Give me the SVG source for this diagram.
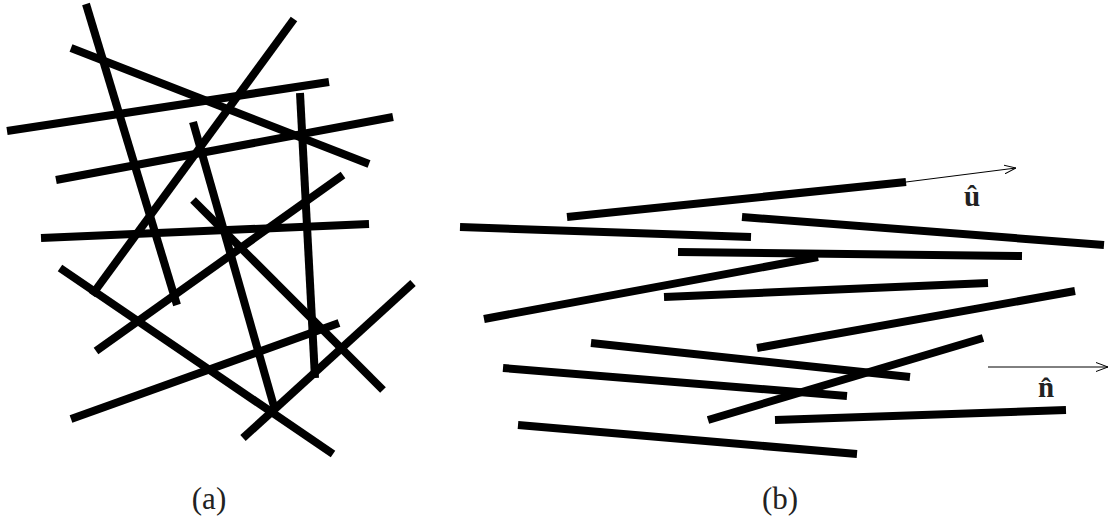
<svg xmlns="http://www.w3.org/2000/svg" width="1110" height="518" viewBox="0 0 1110 518">
<style>
.rod{stroke:#000;stroke-width:8;stroke-linecap:butt;fill:none}
.thin{stroke:#000;stroke-width:1;fill:none}
.lbl{font-family:"Liberation Serif","DejaVu Serif",serif;font-size:31px;fill:#222}
.vec{font-family:"Liberation Serif","DejaVu Serif",serif;font-size:29px;font-weight:bold;fill:#222}
</style>
<defs>
<marker id="open" viewBox="0 0 12 10" refX="12" refY="5" markerWidth="12" markerHeight="10" markerUnits="userSpaceOnUse" orient="auto">
<path d="M0,0.5 L12,5 L0,9.5" fill="none" stroke="#000" stroke-width="1"/>
</marker>
</defs>
<rect width="1110" height="518" fill="#fff"/>
<g id="panel-a">
<line class="rod" x1="86" y1="4" x2="177" y2="305"/>
<line class="rod" x1="71" y1="48" x2="369" y2="164"/>
<line class="rod" x1="294" y1="19" x2="92" y2="295"/>
<line class="rod" x1="7" y1="131" x2="329" y2="82"/>
<line class="rod" x1="300" y1="93" x2="315" y2="378"/>
<line class="rod" x1="56" y1="180" x2="393" y2="117"/>
<line class="rod" x1="193" y1="122" x2="275" y2="410"/>
<line class="rod" x1="343" y1="175" x2="96" y2="351"/>
<line class="rod" x1="41" y1="238" x2="369" y2="224"/>
<line class="rod" x1="193" y1="200" x2="383" y2="390"/>
<line class="rod" x1="60" y1="268" x2="333" y2="454"/>
<line class="rod" x1="71" y1="419" x2="339" y2="323"/>
<line class="rod" x1="413" y1="283" x2="243" y2="438"/>
</g>
<g id="panel-b">
<line class="rod" x1="567" y1="217" x2="906" y2="182"/>
<line class="rod" x1="742" y1="217" x2="1104" y2="245"/>
<line class="rod" x1="460" y1="227" x2="751" y2="237"/>
<line class="rod" x1="678" y1="252" x2="1022" y2="256"/>
<line class="rod" x1="484" y1="319" x2="818" y2="257"/>
<line class="rod" x1="664" y1="297" x2="988" y2="283"/>
<line class="rod" x1="757" y1="348" x2="1075" y2="291"/>
<line class="rod" x1="591" y1="343" x2="910" y2="377"/>
<line class="rod" x1="503" y1="368" x2="847" y2="396"/>
<line class="rod" x1="708" y1="420" x2="983" y2="338"/>
<line class="rod" x1="775" y1="420" x2="1066" y2="410"/>
<line class="rod" x1="518" y1="425" x2="857" y2="454"/>
</g>
<g id="connectors">
<line class="thin" x1="906" y1="182" x2="1016" y2="168" marker-end="url(#open)"/>
<line class="thin" x1="988" y1="367" x2="1108" y2="367" marker-end="url(#open)"/>
</g>
<g id="labels">
<text class="vec" x="972" y="206" text-anchor="middle">û</text>
<text class="vec" x="1046" y="397" text-anchor="middle">n̂</text>
<text class="lbl" x="209" y="509" text-anchor="middle">(a)</text>
<text class="lbl" x="780" y="509" text-anchor="middle">(b)</text>
</g>
</svg>
